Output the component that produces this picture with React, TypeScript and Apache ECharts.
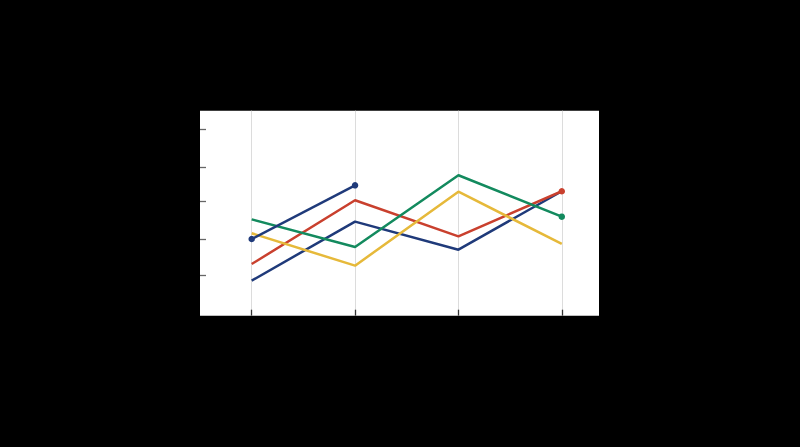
import { useEffect, useRef } from "react";
import * as echarts from "echarts";

// x positions of the four points, and the y ticks
const xs = [1, 2, 3, 4];
const yTicks = [19.7, 37.1, 56, 72.5, 91.1];

const navy = [17.1, 45.9, 32.2, 60.7];
const red = [25.2, 56.3, 38.7, 60.7];
const green = [47.0, 33.5, 68.5, 48.3];
const yellow = [40.2, 24.4, 60.5, 35.0];
const navyShort = [37.4, 63.6];

const dotAt = (vals: number[], idx: number[]) =>
  vals.map((v, i) =>
    idx.includes(i) ? { value: [xs[i], v], symbol: "circle", symbolSize: 6.5 } : { value: [xs[i], v] }
  );

export default function App() {
  const elRef = useRef<HTMLDivElement>(null);

  useEffect(() => {
    document.body.style.margin = "0";
    document.body.style.background = "#000";
    if (!elRef.current) return;
    const chart = echarts.init(elRef.current, undefined, { renderer: "svg" });
    const line = (name: string, color: string, data: any[]) => ({
      name,
      type: "line",
      data,
      symbol: "none",
      lineStyle: { color, width: 2.5 },
      itemStyle: { color },
      z: 3,
    });
    chart.setOption({
      animation: false,
      backgroundColor: "#000",
      grid: { left: 200, right: 201, top: 110.7, bottom: 131.3, show: true, backgroundColor: "#fff", borderWidth: 0 },
      xAxis: {
        type: "value",
        min: 0.5,
        max: 4.36,
        axisLine: { show: false },
        axisLabel: { show: false },
        axisTick: { show: true, inside: true, length: 6, customValues: xs, lineStyle: { color: "#333", width: 1.3 } },
        splitLine: { show: true, lineStyle: { color: "#dcdcdc", width: 1 } },
      },
      yAxis: {
        type: "value",
        min: 0,
        max: 100,
        axisLine: { show: false },
        axisLabel: { show: false },
        axisTick: { show: true, inside: true, length: 6, customValues: yTicks, lineStyle: { color: "#666", width: 1.3 } },
        splitLine: { show: false },
      },
      series: [
        line("navy", "#1f3a7a", dotAt(navy, [])),
        line("red", "#c9402e", dotAt(red, [3])),
        line("green", "#138a5e", dotAt(green, [3])),
        line("yellow", "#e6b93a", dotAt(yellow, [])),
        line("navy2", "#1f3a7a", dotAt(navyShort, [0, 1])),
      ],
    });
    return () => chart.dispose();
  }, []);

  return <div ref={elRef} style={{ width: 800, height: 447 }} />;
}
